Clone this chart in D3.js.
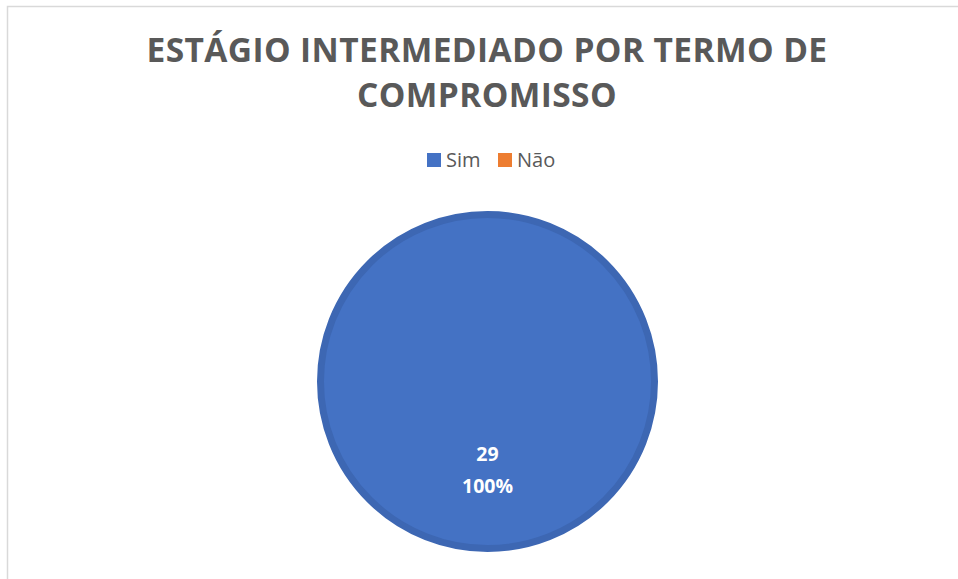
<!DOCTYPE html>
<html>
<head>
<meta charset="utf-8">
<script src="https://cdn.jsdelivr.net/npm/d3@7"></script>
<style>
  body { margin: 0; background: #fff; }
  text { font-family: "Open Sans", "Noto Sans", sans-serif; }
</style>
</head>
<body>
<div id="chart"></div>
<script>
// chart data
var categories = ["Sim", "Não"];
var values = [29, 0];
var colors = ["#4472C4", "#ED7D31"];
var titleLines = ["ESTÁGIO INTERMEDIADO POR TERMO DE", "COMPROMISSO"];

var svgWidth = 958;
var svgHeight = 579;

var svg = d3.select("#chart")
  .append("svg")
  .attr("width", svgWidth)
  .attr("height", svgHeight);

// chart area border (only top and left visible in frame)
svg.append("rect")
  .attr("x", 7.5)
  .attr("y", 6.5)
  .attr("width", 980)
  .attr("height", 600)
  .attr("fill", "none")
  .attr("stroke", "#d9d9d9")
  .attr("stroke-width", 1.5);

// title
var titleGroup = svg.append("g");
titleGroup.selectAll("text")
  .data(titleLines)
  .enter()
  .append("text")
  .attr("x", 487)
  .attr("y", (d, i) => 62 + i * 45)
  .attr("text-anchor", "middle")
  .attr("font-size", 33.5)
  .attr("font-weight", "bold")
  .attr("fill", "#595959")
  .attr("letter-spacing", 0.4)
  .text(d => d);

// legend
var legendX = [427, 498];
var legend = svg.append("g");
var items = legend.selectAll("g")
  .data(categories)
  .enter()
  .append("g")
  .attr("transform", (d, i) => `translate(${legendX[i]}, 153)`);

items.append("rect")
  .attr("width", 14)
  .attr("height", 14)
  .attr("fill", (d, i) => colors[i]);

items.append("text")
  .attr("x", 19)
  .attr("y", 14)
  .attr("font-size", 20)
  .attr("fill", "#595959")
  .text(d => d);

// pie
var cx = 487.5, cy = 381.5, radius = 170.5;
var pieData = categories.map((c, i) => ({ name: c, value: values[i], color: colors[i] }));

var pie = d3.pie()
  .sort(null)
  .value(d => d.value);

var arc = d3.arc()
  .innerRadius(0)
  .outerRadius(radius - 3.5);

var pieGroup = svg.append("g")
  .attr("transform", `translate(${cx}, ${cy})`);

pieGroup.selectAll("path")
  .data(pie(pieData).filter(d => d.data.value > 0))
  .enter()
  .append("path")
  .attr("d", arc)
  .attr("fill", d => d.data.color)
  .attr("stroke", "#3d67b3")
  .attr("stroke-width", 7);

// data labels
var total = d3.sum(values);
var labelGroup = pieGroup.selectAll(".label")
  .data(pie(pieData).filter(d => d.data.value > 0))
  .enter()
  .append("g")
  .attr("class", "label");

labelGroup.append("text")
  .attr("x", 0)
  .attr("y", 79.5)
  .attr("text-anchor", "middle")
  .attr("font-size", 19.5)
  .attr("font-weight", "bold")
  .attr("fill", "#ffffff")
  .text(d => d.data.value);

labelGroup.append("text")
  .attr("x", 0)
  .attr("y", 111.5)
  .attr("text-anchor", "middle")
  .attr("font-size", 19.5)
  .attr("font-weight", "bold")
  .attr("fill", "#ffffff")
  .text(d => Math.round(d.data.value / total * 100) + "%");
</script>
</body>
</html>
